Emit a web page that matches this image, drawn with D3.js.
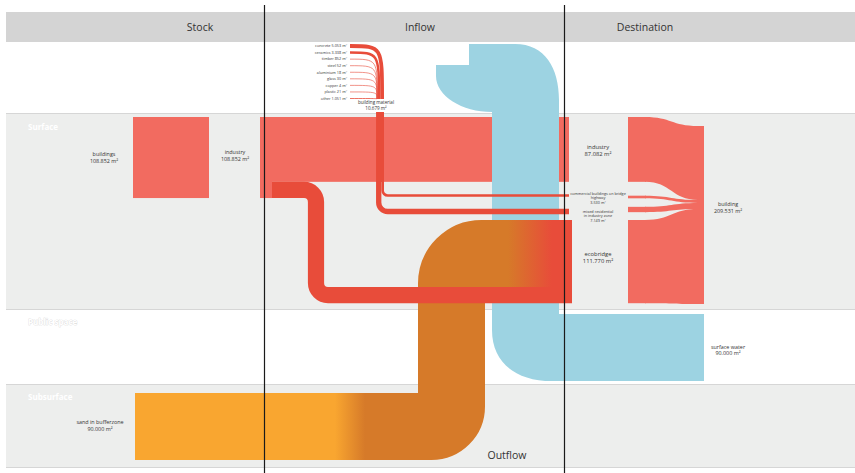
<!DOCTYPE html>
<html>
<head>
<meta charset="utf-8">
<script src="https://cdn.jsdelivr.net/npm/d3@7"></script>
<style>
  body { margin: 0; background: #fff; }
  svg { display: block; }
  text { font-family: "Open Sans", sans-serif; fill: #333; }
</style>
</head>
<body>
<div id="chart"></div>
<script>
// ---- data (m²) ----
const headers = ["Stock", "Inflow", "Destination"];
const layers = ["Surface", "Public space", "Subsurface"];

const stockNames = ["buildings", "sand in bufferzone"];
const stockValues = [108852, 90000];

const inflowNames = ["industry", "building material", "surface water"];
const inflowValues = [108852, 10679, 90000];

const materialNames = ["concrete", "ceramics", "timber", "steel", "aluminium", "glass", "copper", "plastic", "other"];
const materialValues = [5053, 3338, 852, 52, 18, 30, 4, 21, 1051];

const destNames = ["industry", "commercial buildings on bridge highway", "mixed residential in industry zone", "ecobridge", "building", "surface water"];
const destValues = [87082, 3530, 7149, 111770, 209531, 90000];

const outflowLabel = "Outflow";

// ---- setup ----
const width = 855, height = 473;
const fmt = d3.formatLocale({ decimal: ",", thousands: ".", grouping: [3], currency: ["", ""] }).format(",d");
const m2 = v => fmt(v) + " m²";

const colors = {
  header: "#d4d4d4", band: "#edeeed", line: "#d6d6d6",
  red: "#f26b60", darkRed: "#e84c3a", orange: "#f9a630", darkOrange: "#d67a29", blue: "#9dd3e2"
};

// flow thickness scale (px per m²)
const w = d3.scaleLinear().domain([0, destValues[4]]).range([0, 156]);

// layout anchors
const colLines = [264.5, 564.5];
const bandY = [113, 309, 384, 467];
const X = { stock: 133, inflow: 260, split: 272, bend: 316, bundle: 384, blue: 492, orange: 418, out: 569, dest: 628, node: 697, nodeEnd: 704 };
const Y = { header: 12, industry: 117, blueTop: 44, water: 314, eco: 220, sand: 393, merge: 99 };

const svg = d3.select("#chart").append("svg")
  .attr("width", width).attr("height", height)
  .attr("viewBox", [0, 0, width, height]);

const defs = svg.append("defs");

// rounded polyline centre path
function roundPath(pts, r) {
  const p = d3.path();
  p.moveTo(pts[0][0], pts[0][1]);
  for (let i = 1; i < pts.length - 1; i++) {
    p.arcTo(pts[i][0], pts[i][1], pts[i + 1][0], pts[i + 1][1], Array.isArray(r) ? r[i - 1] : r);
  }
  p.lineTo(pts[pts.length - 1][0], pts[pts.length - 1][1]);
  return p.toString();
}

// sankey style ribbon between two vertical spans
function ribbon(x0, a0, b0, x1, a1, b1) {
  const xm = (x0 + x1) / 2;
  return `M${x0},${a0}C${xm},${a0} ${xm},${a1} ${x1},${a1}L${x1},${b1}C${xm},${b1} ${xm},${b0} ${x0},${b0}Z`;
}

// ---- backgrounds ----
svg.append("rect").attr("x", 6).attr("y", Y.header).attr("width", width - 6).attr("height", 30).attr("fill", colors.header);
svg.append("rect").attr("x", 6).attr("y", bandY[0]).attr("width", width - 6).attr("height", bandY[1] - bandY[0]).attr("fill", colors.band);
svg.append("rect").attr("x", 6).attr("y", bandY[2]).attr("width", width - 6).attr("height", bandY[3] - bandY[2]).attr("fill", colors.band);
[bandY[0], bandY[1], bandY[2], bandY[3]].forEach(y => {
  svg.append("line").attr("x1", 6).attr("x2", width).attr("y1", y + 0.5).attr("y2", y + 0.5)
    .attr("stroke", colors.line).attr("stroke-width", 1);
});

// header titles
const headerX = d3.scalePoint().domain(headers).range([200, 645]);
svg.selectAll(".hdr").data(headers).join("text")
  .attr("class", "hdr")
  .attr("x", (d, i) => i == 1 ? 420 : headerX(d))
  .attr("y", 31)
  .attr("text-anchor", "middle")
  .attr("font-size", 10.5)
  .text(d => d);

// layer names
const layerY = [127, 322, 397];
svg.selectAll(".layer").data(layers).join("text")
  .attr("class", "layer")
  .attr("x", 28).attr("y", (d, i) => layerY[i] + 3)
  .attr("font-size", 8).attr("font-weight", "bold")
  .style("fill", "#fff")
  .attr("stroke", (d, i) => i == 1 ? "#cfcfcf" : "none")
  .attr("stroke-width", 0.5)
  .attr("paint-order", "stroke")
  .text(d => d);

// ---- stock: buildings ----
const hInd = w(inflowValues[0]);
svg.append("rect")
  .attr("x", X.stock).attr("y", Y.industry)
  .attr("width", 76).attr("height", w(stockValues[0]))
  .attr("fill", colors.red);

// ---- inflow industry band ----
const hIndDest = w(destValues[0]);
const hReuse = w(inflowValues[0] - destValues[0]);
svg.append("rect")
  .attr("x", X.inflow).attr("y", Y.industry)
  .attr("width", X.split - X.inflow).attr("height", hInd)
  .attr("fill", colors.red);
svg.append("rect")
  .attr("x", X.split - 1).attr("y", Y.industry)
  .attr("width", X.out - X.split + 1).attr("height", hIndDest)
  .attr("fill", colors.red);

// ---- surface water (blue) ----
const bw = w(inflowValues[2]);
const bx0 = X.blue, bx1 = X.blue + bw;
const wy0 = Y.water, wy1 = Y.water + bw;
const blue = d3.path();
blue.moveTo(469, Y.blueTop);
blue.lineTo(515, Y.blueTop);
blue.bezierCurveTo(545, Y.blueTop, bx1, 68, bx1, 100);
blue.lineTo(bx1, wy0);
blue.lineTo(X.nodeEnd, wy0);
blue.lineTo(X.nodeEnd, wy1);
blue.lineTo(552, wy1);
blue.bezierCurveTo(515, wy1, bx0, 362, bx0, 330);
blue.lineTo(bx0, 112);
blue.bezierCurveTo(462, 112, 436, 96, 436, 76);
blue.lineTo(436, 65);
blue.lineTo(469, 65);
blue.closePath();
svg.append("path").attr("d", blue.toString()).attr("fill", colors.blue);

// ---- destination block -> building node ----
const hComm = w(destValues[1]), hMixed = w(destValues[2]), hEco = w(destValues[3]);
const leftSpans = [
  [Y.industry, Y.industry + hIndDest],
  [197 - hComm / 2, 197 + hComm / 2],
  [209.5 - hMixed / 2, 209.5 + hMixed / 2],
  [Y.eco, Y.eco + hEco]
];
const nodeScale = d3.scaleLinear().domain([0, destValues[4]]).range([126, 304]);
let acc = 0;
const rightSpans = destValues.slice(0, 4).map(v => {
  const s = [nodeScale(acc), nodeScale(acc + v)];
  acc += v;
  return s;
});
const destBlock = svg.append("g").attr("fill", colors.red);
leftSpans.forEach((s, i) => {
  destBlock.append("rect").attr("x", X.dest).attr("y", s[0]).attr("width", 18).attr("height", s[1] - s[0]);
  destBlock.append("path").attr("d", ribbon(X.dest + 17, s[0], s[1], X.node + 1, rightSpans[i][0], rightSpans[i][1]));
});
destBlock.append("rect").attr("x", X.node).attr("y", nodeScale(0))
  .attr("width", X.nodeEnd - X.node).attr("height", nodeScale(destValues[4]) - nodeScale(0));

// ---- sand -> ecobridge (orange) ----
const ow = w(stockValues[1]);
const grad = defs.append("linearGradient").attr("id", "gOrange")
  .attr("gradientUnits", "userSpaceOnUse")
  .attr("x1", X.stock).attr("x2", X.out).attr("y1", 0).attr("y2", 0);
const gx = d3.scaleLinear().domain([X.stock, X.out]).range([0, 1]);
[[335, colors.orange], [365, colors.darkOrange], [508, colors.darkOrange], [552, colors.darkRed]].forEach(s => {
  grad.append("stop").attr("offset", gx(s[0])).attr("stop-color", s[1]);
});
svg.append("path")
  .attr("d", roundPath([
    [135, Y.sand + ow / 2],
    [X.orange + ow / 2, Y.sand + ow / 2],
    [X.orange + ow / 2, Y.eco + ow / 2],
    [X.out + 3, Y.eco + ow / 2]
  ], [20, 30]))
  .attr("fill", "none").attr("stroke", "url(#gOrange)").attr("stroke-width", ow);

// ---- industry -> ecobridge (dark red) ----
const ry0 = Y.industry + hIndDest + hReuse / 2;
const ry1 = Y.eco + hEco - hReuse / 2;
svg.append("path")
  .attr("d", roundPath([[X.split, ry0], [X.bend, ry0], [X.bend, ry1], [X.out + 3, ry1]], 12))
  .attr("fill", "none").attr("stroke", colors.darkRed).attr("stroke-width", hReuse);

// ---- building material ----
const matY = d3.scalePoint().domain(materialNames).range([46, 98.5]);
const bundleW = w(inflowValues[1]);
const matG = svg.append("g").attr("fill", "none").attr("stroke", colors.darkRed);
let off = 0;
materialNames.forEach((m, i) => {
  const t = w(materialValues[i]);
  const xi = X.bundle - off - t / 2;
  off += t;
  const y = matY(m);
  matG.append("path")
    .attr("d", `M350,${y}C${xi},${y} ${xi},${y} ${xi},${Y.merge}`)
    .attr("stroke-width", Math.max(t, 0.6));
});
svg.selectAll(".mat").data(materialNames).join("text")
  .attr("class", "mat")
  .attr("x", 347).attr("y", d => matY(d) + 1.3)
  .attr("text-anchor", "end").attr("font-size", 3.8)
  .text((d, i) => d + " " + m2(materialValues[i]));

// bundle down to the surface, then split to commercial / mixed
const bL = X.bundle - bundleW;
svg.append("rect").attr("x", bL).attr("y", 112).attr("width", bundleW).attr("height", 70).attr("fill", colors.darkRed);
const cx = X.bundle - hComm / 2;
const mx = bL + hMixed / 2;
matG.append("path").attr("d", roundPath([[cx, 181], [cx, 195.5], [X.out, 195.5]], 5)).attr("stroke-width", hComm);
matG.append("path").attr("d", roundPath([[mx, 181], [mx, 211.5], [X.out, 211.5]], 9)).attr("stroke-width", hMixed);

svg.append("text").attr("x", 376).attr("y", 104).attr("text-anchor", "middle").attr("font-size", 4.6).text(inflowNames[1]);
svg.append("text").attr("x", 376).attr("y", 109.5).attr("text-anchor", "middle").attr("font-size", 4.6).text(m2(inflowValues[1]));

// ---- labels ----
function label(x, y, lines, size) {
  const t = svg.append("text").attr("x", x).attr("y", y).attr("text-anchor", "middle").attr("font-size", size);
  lines.forEach((l, i) => t.append("tspan").attr("x", x).attr("dy", i ? size * 1.25 : 0).text(l));
}
label(104, 156, [stockNames[0], m2(stockValues[0])], 5.4);
label(235, 154, [inflowNames[0], m2(inflowValues[0])], 5.4);
label(100, 424, [stockNames[1], m2(stockValues[1])], 5.4);
label(598, 148.5, [destNames[0], m2(destValues[0])], 5.8);
label(598, 194.5, ["commercial buildings on bridge", "highway", m2(destValues[1])], 3.8);
label(598, 212.5, ["mixed residential", "in industry zone", m2(destValues[2])], 3.8);
label(598, 256, [destNames[3], m2(destValues[3])], 5.8);
label(728, 206, [destNames[4], m2(destValues[4])], 5.4);
label(728, 348.5, [destNames[5], m2(destValues[5])], 5.4);

svg.append("text").attr("x", 507).attr("y", 459).attr("text-anchor", "middle").attr("font-size", 10.5).text(outflowLabel);

// ---- column dividers ----
colLines.forEach(x => {
  svg.append("line").attr("x1", x).attr("x2", x).attr("y1", 5).attr("y2", height)
    .attr("stroke", "#1a1a1a").attr("stroke-width", 1.2);
});
</script>
</body>
</html>
